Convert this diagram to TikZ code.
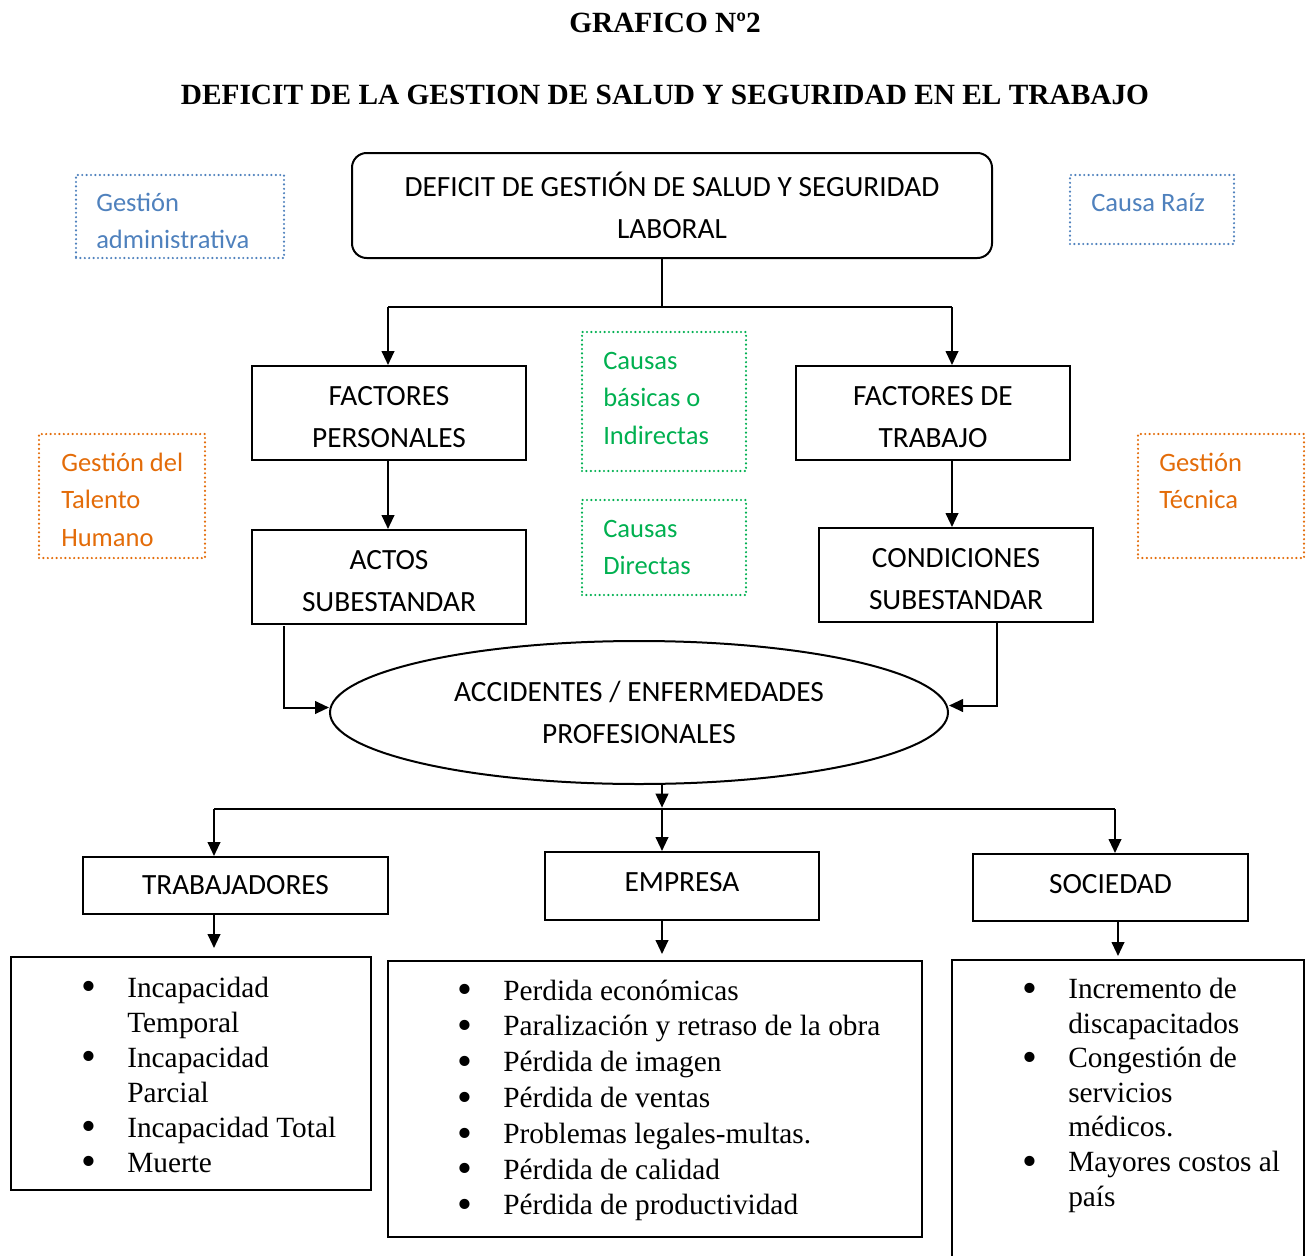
\documentclass[tikz,border=0pt]{standalone}
\usepackage{fontspec}
\usepackage{graphicx}
\setmainfont{Liberation Serif}
\newfontfamily\calibri{Carlito}
\usetikzlibrary{arrows.meta,shapes.geometric}
\definecolor{offblue}{HTML}{4F81BD}
\definecolor{offgreen}{HTML}{00B050}
\definecolor{offorange}{HTML}{E36C09}
\newcommand\bul{\makebox[34.5pt][l]{\smash{\raisebox{-0.13em}{\scalebox{1.45}{\textbullet}}}}}
\newcommand\lind{\hspace*{34.5pt}}
\newcommand\hstrut{\rule{0pt}{20pt}}
\newcommand\dstrut{\rule[-6pt]{0pt}{6pt}}
\begin{document}
\begin{tikzpicture}[x=0.75pt,y=-0.75pt,
  box/.style={draw, line width=1.5pt, inner sep=0pt, align=center,
    font=\calibri\fontsize{22}{31.5}\selectfont},
  dotbox/.style={line width=1.8pt, dash pattern=on 0pt off 3.3pt, line cap=round, inner sep=0pt},
  lbl/.style={anchor=base west, inner sep=0pt, align=left,
    font=\calibri\fontsize{19.9}{28.1}\selectfont},
  title/.style={anchor=base, inner sep=0pt, font=\bfseries\fontsize{22}{26}\selectfont},
  lst/.style={anchor=base west, inner sep=0pt, align=left},
  conn/.style={line width=1.5pt},
  arr/.style={line width=1.5pt, -{Triangle[length=10.5pt,width=9.5pt]}}]
\useasboundingbox (0,0) rectangle (1310,1256);

% titles
\node[title] (t1) at (665,33) {GRAFICO Nº2};
\node[title] (t2) at (665,104) {DEFICIT DE LA GESTION DE SALUD Y SEGURIDAD EN EL TRABAJO};

% main boxes
\node[box, rounded corners=11pt, minimum width=480pt, minimum height=78.75pt] (top) at (672,205.5)
  {DEFICIT DE GESTIÓN DE SALUD Y SEGURIDAD\\LABORAL};
\node[box, minimum width=205.5pt, minimum height=70.5pt] (fp) at (389,413) {\hstrut FACTORES\\PERSONALES};
\node[box, minimum width=205.5pt, minimum height=70.5pt] (ft) at (933,413) {\hstrut FACTORES DE\\TRABAJO};
\node[box, minimum width=205.5pt, minimum height=70.5pt] (actos) at (389,577) {\hstrut ACTOS\\SUBESTANDAR};
\node[box, minimum width=205.5pt, minimum height=70.5pt] (cond) at (956,575) {\hstrut CONDICIONES\\SUBESTANDAR};
\node[box, ellipse, minimum width=463.5pt, minimum height=107.25pt] (ell) at (639,712.5)
  {ACCIDENTES / ENFERMEDADES\\PROFESIONALES};
\node[box, minimum width=228.75pt, minimum height=42.75pt] (trab) at (235.5,885.5) {TRABAJADORES};
\node[box, minimum width=205.5pt, minimum height=51pt] (emp) at (682,886) {EMPRESA\dstrut};
\node[box, minimum width=206.25pt, minimum height=50.25pt] (soc) at (1110.5,887.5) {SOCIEDAD\dstrut};

% list boxes
\node[box, minimum width=270pt, minimum height=174.75pt] (ltrab) at (191,1073.5) {};
\node[box, minimum width=400.5pt, minimum height=207pt] (lemp) at (655,1099) {};
\node[box, minimum width=264pt, minimum height=255pt] (lsoc) at (1128,1130) {};

\node[lst, font=\fontsize{22}{26.25}\selectfont] (ttrab) at (81,1172)
  {\bul Incapacidad\\ \lind Temporal\\ \bul Incapacidad\\ \lind Parcial\\ \bul Incapacidad Total\\ \bul Muerte};
\node[lst, font=\fontsize{22}{26.85}\selectfont] (temp) at (457,1214.8)
  {\bul Perdida económicas\\ \bul Paralización y retraso de la obra\\ \bul Pérdida de imagen\\ \bul Pérdida de ventas\\ \bul Problemas legales-multas.\\ \bul Pérdida de calidad\\ \bul Pérdida de productividad};
\node[lst, font=\fontsize{22}{25.9}\selectfont] (tsoc) at (1022,1206)
  {\bul Incremento de\\ \lind discapacitados\\ \bul Congestión de\\ \lind servicios\\ \lind médicos.\\ \bul Mayores costos al\\ \lind país};

% dotted side boxes
\node[dotbox, draw=offblue, minimum width=156pt, minimum height=62.25pt] (gadm) at (180,216.5) {};
\begin{scope}
  \clip (70,170) rectangle (290,247);
  \node[lbl, text=offblue] (tadm) at (96,248.5) {Gestión\\administrativa};
\end{scope}
\node[dotbox, draw=offblue, minimum width=123pt, minimum height=51.75pt] (craiz) at (1152,209.5) {};
\node[lbl, text=offblue] (traiz) at (1091,211) {Causa Raíz};
\node[dotbox, draw=offgreen, minimum width=123pt, minimum height=104.25pt] (cbas) at (664,401.5) {};
\node[lbl, text=offgreen] (tbas) at (603,444) {Causas\\básicas o\\Indirectas};
\node[dotbox, draw=offgreen, minimum width=123pt, minimum height=71.25pt] (cdir) at (664,547.5) {};
\node[lbl, text=offgreen] (tdir) at (603,574.5) {Causas\\Directas};
\node[dotbox, draw=offorange, minimum width=124.5pt, minimum height=93pt] (gth) at (122,496) {};
\node[lbl, text=offorange] (tgth) at (61,546) {Gestión del\\Talento\\Humano};
\node[dotbox, draw=offorange, minimum width=124.5pt, minimum height=93pt] (gtec) at (1221,496) {};
\node[lbl, text=offorange] (tgtec) at (1159,508.5) {Gestión\\Técnica};

% connectors
\coordinate (j1) at (662,307);
\coordinate (jfp) at (388,307);
\coordinate (jft) at (952,307);
\draw[conn] (j1 |- top.south) -- (j1);
\draw[conn] (jfp) -- (jft);
\draw[arr] (jfp) -- (jfp |- fp.north);
\draw[arr] (jft) -- (jft |- ft.north);
\draw[arr] (fp.south -| jfp) -- (actos.north -| jfp);
\draw[arr] (ft.south -| jft) -- (cond.north -| jft);

\coordinate (a1) at (284,626);
\coordinate (c1) at (997,622);
\draw[arr] (a1) |- ([yshift=3.75pt]ell.west);
\draw[arr] (c1) |- ([yshift=5.25pt]ell.east);

\coordinate (j2) at (662,809);
\coordinate (jl) at (214,809);
\coordinate (jr) at (1115,809);
\draw[arr] (ell.south -| j2) -- ([yshift=1pt]j2);
\draw[conn] (jl) -- (jr);
\draw[arr] (jl) -- (jl |- trab.north);
\draw[arr] (j2) -- (j2 |- emp.north);
\draw[arr] (jr) -- (jr |- soc.north);

\coordinate (b1) at (214,948);
\coordinate (b2) at (662,954);
\coordinate (b3) at (1118,956);
\draw[arr] (trab.south -| b1) -- (b1);
\draw[arr] (emp.south -| b2) -- (b2);
\draw[arr] (soc.south -| b3) -- (b3);
\end{tikzpicture}
\end{document}
